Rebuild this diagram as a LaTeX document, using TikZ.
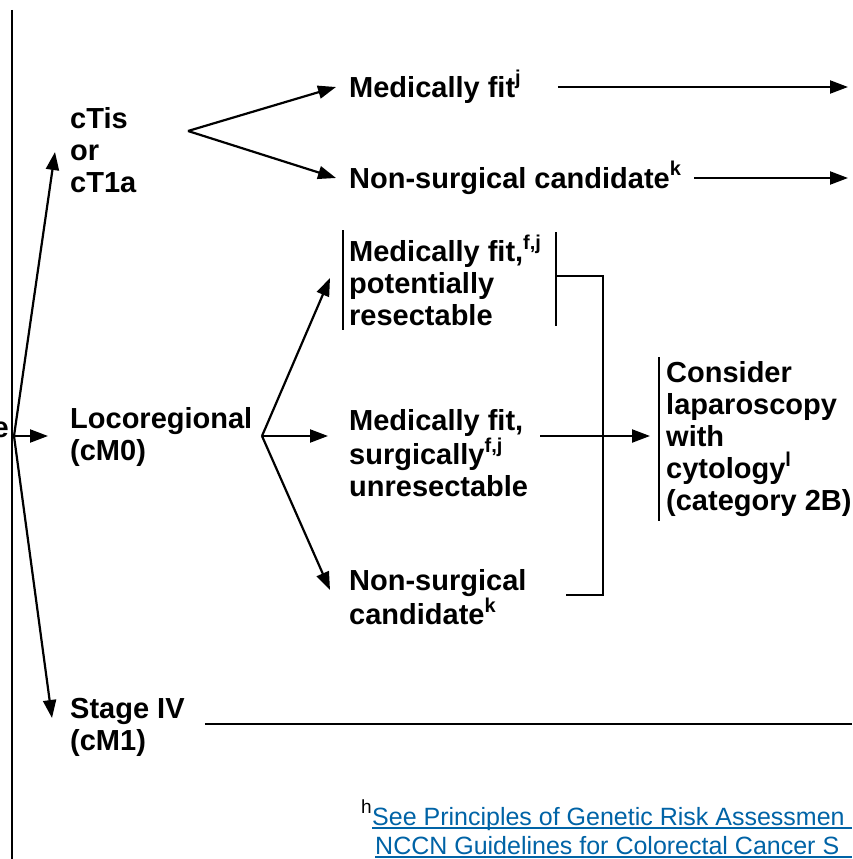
\documentclass[tikz,border=0pt]{standalone}
\usepackage{fontspec}
\setmainfont{Liberation Sans}
\usetikzlibrary{arrows.meta}
\definecolor{linkblue}{RGB}{0,99,166}
\newcommand\supx[1]{\raisebox{0.42em}{\fontsize{20}{20}\selectfont #1}}
\begin{document}
\begin{tikzpicture}[x=1pt,y=-1pt,
  font=\bfseries\fontsize{29}{32}\selectfont,
  txt/.style={inner sep=0pt, anchor=west, align=left},
  ln/.style={line width=2.2pt},
  arr/.style={line width=2.2pt, -{Triangle[length=18pt,width=13pt]}},
  fnote/.style={inner sep=0pt, anchor=base west, font=\mdseries\fontsize{25}{31}\selectfont, text=linkblue}]
\useasboundingbox (0,0) rectangle (852,859);
% main vertical line
\draw[line width=2.6pt] (12,10) -- (12,859);
\node[txt, anchor=east] (ecut) at (9,430) {e};
\coordinate (src) at (14,436);
% first level
\node[txt] (ctis) at (70,150) {cTis\\or\\cT1a};
\node[txt] (loco) at (70,437) {Locoregional\\(cM0)};
\node[txt] (st4) at (70,727) {Stage IV\\(cM1)};
\draw[arr] (src) -- ([xshift=-15pt,yshift=-2pt]ctis.west);
\draw[arr] (src) -- ([xshift=-22pt,yshift=1pt]loco.west);
\draw[arr] (src) -- ([xshift=-18pt,yshift=9pt]st4.west);
% top split
\coordinate (j1) at (188,131);
\node[txt, anchor=base west] (mf) at (349,97) {Medically fit\supx{j}};
\node[txt, anchor=base west] (ns) at (349,188) {Non-surgical candidate\supx{k}};
\coordinate (o1) at (848,87);
\coordinate (o2) at (848,178);
\draw[arr] (j1) -- ([xshift=-13pt,yshift=10pt]mf.base west);
\draw[arr] (j1) -- ([xshift=-13pt,yshift=10pt]ns.base west);
\draw[arr] ([xshift=37pt,yshift=10pt]mf.base east) -- (o1);
\draw[arr] ([xshift=13pt,yshift=10pt]ns.base east) -- (o2);
% locoregional split
\coordinate (j2) at (262,436);
\node[txt] (b1) at (349,280) {Medically fit,\supx{f,j}\\potentially\\resectable};
\node[txt] (b2) at (349,453) {Medically fit,\\surgically\supx{f,j}\\unresectable};
\node[txt] (b3) at (349,597) {Non-surgical\\candidate\supx{k}};
\node[txt] (res) at (666,439) {Consider\\laparoscopy\\with\\cytology\supx{l}\\(category 2B)};
\draw[arr] (j2) -- ([xshift=-19pt,yshift=2pt]b1.west);
\draw[arr] (j2) -- ([xshift=-21pt,yshift=17pt]b2.west);
\draw[arr] (j2) -- ([xshift=-19pt,yshift=7pt]b3.west);
% bars
\draw[ln] ([xshift=-6pt,yshift=4pt]b1.north west) -- ([xshift=-6pt,yshift=-4pt]b1.south west);
\coordinate (rb) at (556,232);
\draw[ln] (rb) -- (556,326);
\draw[ln] ([xshift=-7pt,yshift=4pt]res.north west) -- ([xshift=-7pt,yshift=-4pt]res.south west);
% bracket
\coordinate (bk1) at (556,276);
\coordinate (bk2) at (603,595);
\coordinate (bk3) at (566,595);
\draw[ln] (bk1) -| (bk2) -- (bk3);
\coordinate (a5) at ([xshift=12pt,yshift=17pt]b2.east);
\draw[arr] (a5) -- ([xshift=-16pt]a5 -| res.west);
% stage IV line
\coordinate (o3) at (852,724);
\draw[line width=2.8pt] ([xshift=20pt,yshift=3pt]st4.east) -- (o3);
% footnote
\node[inner sep=0pt, anchor=base east, font=\mdseries\fontsize{19}{19}\selectfont] (fnh) at (372,813) {h};
\node[fnote] (fn1) at (372,825) {See Principles of Genetic Risk Assessmen};
\node[fnote] (fn2) at (375,854) {NCCN Guidelines for Colorectal Cancer S};
\draw[linkblue, line width=1.4pt] ([yshift=-3pt]fn1.base west) -- ([yshift=-3pt]fn1.base west -| o3);
\draw[linkblue, line width=1.4pt] ([yshift=-3pt]fn2.base west) -- ([yshift=-3pt]fn2.base west -| o3);
\end{tikzpicture}
\end{document}
